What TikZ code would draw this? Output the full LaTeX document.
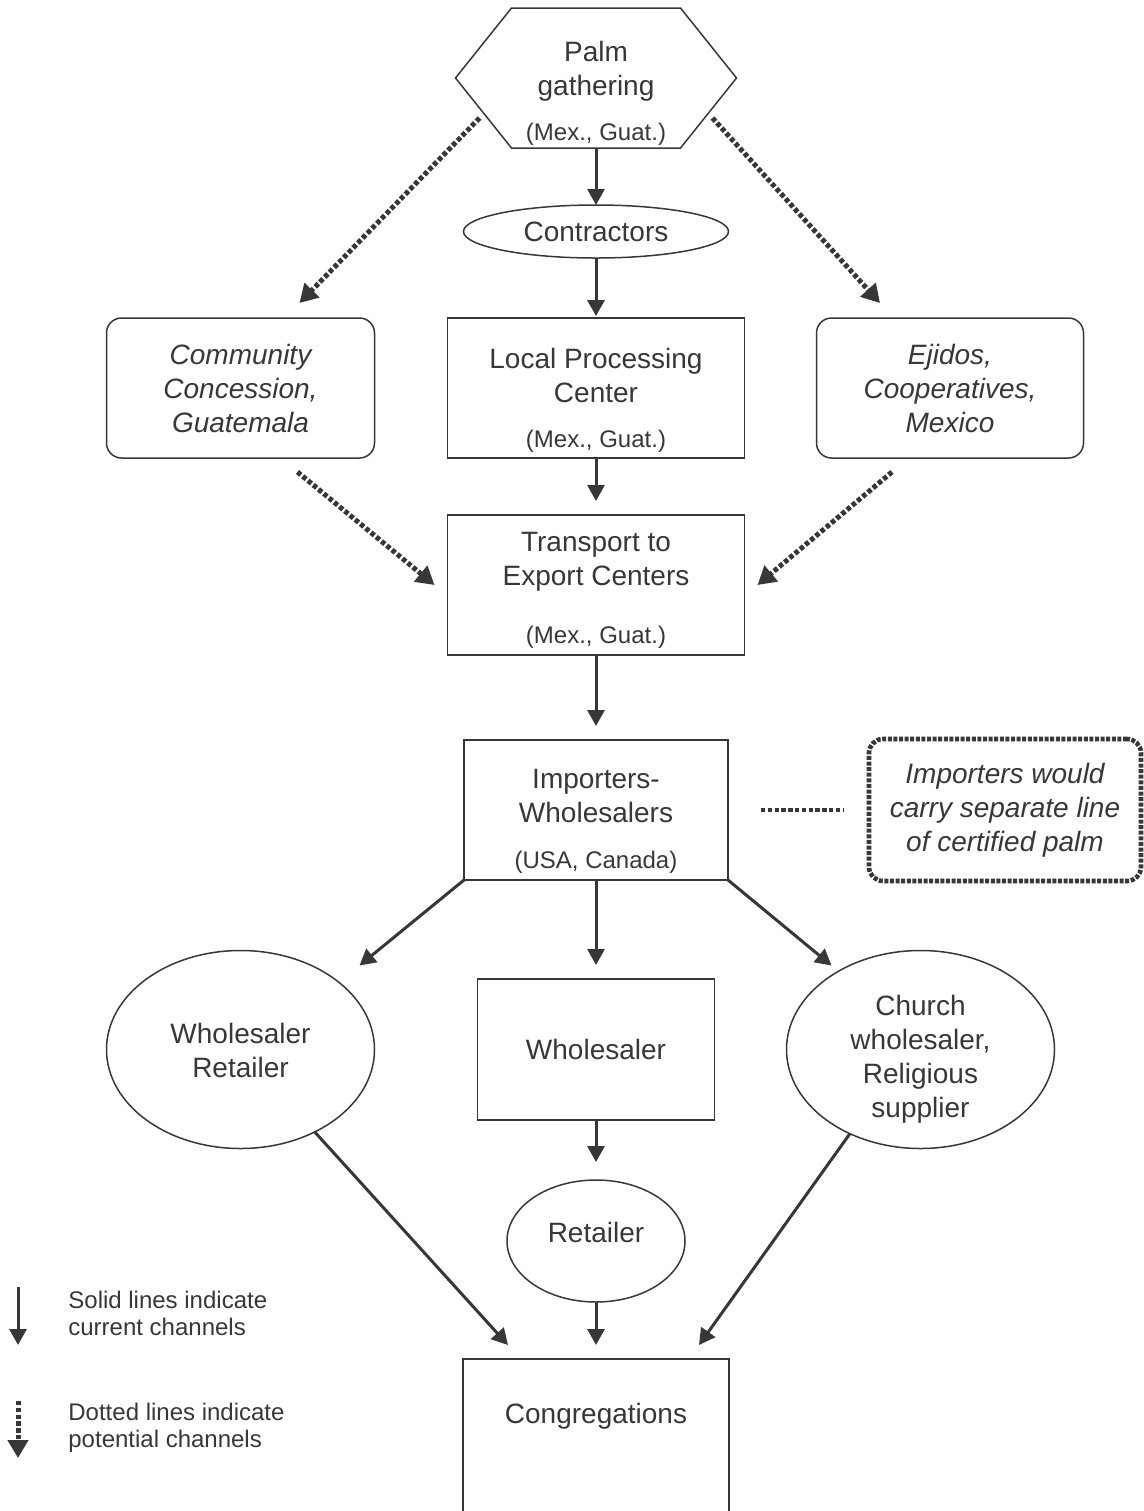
\documentclass[tikz,border=0pt]{standalone}
\usepackage{fontspec}
\setmainfont{Liberation Sans}
\usepackage{xcolor}
\definecolor{ink}{RGB}{55,55,55}
\usetikzlibrary{positioning, calc, shapes.geometric, arrows.meta}

\tikzstyle{Box} = [
draw=ink,
line width=0.75pt,
text=ink,
align=center,
inner sep=0pt,
outer sep=0pt,
font=\fontsize{14}{17}\selectfont]
\tikzstyle{RoundBox} = [Box, rounded corners=7.5pt,
font=\fontsize{14}{17}\selectfont\itshape]
\tikzstyle{Oval} = [Box, ellipse]
\tikzstyle{Sub} = [text=ink, inner sep=2.5pt, anchor=south,
font=\fontsize{12}{14}\selectfont]
\tikzstyle{Legend} = [text=ink, align=left, inner sep=0pt, anchor=west,
font=\fontsize{12}{13.5}\selectfont]
\tikzstyle{Arrow} = [
ink,
line width=1.5pt,
-{Triangle[length=8pt, width=8.5pt]},
shorten >= 7pt]
\tikzstyle{ArrowDotted} = [
ink,
line width=2.5pt,
dash pattern=on 2.2pt off 1.2pt,
-{Triangle[length=9pt, width=10pt]}]

\begin{document}
\begin{tikzpicture}[x=0.5pt, y=-0.5pt]
    \useasboundingbox (0,0) rectangle (1144,1511);
    \clip (0,0) rectangle (1144,1511);

    \node [Box, draw=none, minimum width=140.5pt, minimum height=70pt,
        text height=17pt, text depth=0pt,
        label={[Sub, inner sep=1pt]south:(Mex., Guat.)}] (1) at (596,78) {Palm\\gathering};
    \draw [ink, line width=0.75pt] ([xshift=28pt]1.north west) -- ([xshift=-28pt]1.north east)
        -- (1.east) -- ([xshift=-28pt]1.south east) -- ([xshift=28pt]1.south west) -- (1.west) -- cycle;
    \node [Oval, below=28.5pt of 1, minimum width=132.5pt, minimum height=26.5pt] (2) {Contractors};
    \node [Box, below=30pt of 2, minimum width=148.5pt, minimum height=70pt,
        text height=14pt, text depth=0pt,
        label={[Sub]south:(Mex., Guat.)}] (3) {Local Processing\\Center};
    \node [RoundBox, left=36.5pt of 3, minimum width=134pt, minimum height=70pt] (4) {Community\\Concession,\\Guatemala};
    \node [RoundBox, right=36pt of 3, minimum width=133.5pt, minimum height=70pt] (5) {Ejidos,\\Cooperatives,\\Mexico};
    \node [Box, below=28.5pt of 3, minimum width=148.5pt, minimum height=70pt,
        text height=0pt, text depth=0pt,
        label={[Sub, inner sep=3pt]south:(Mex., Guat.)}] (6) {Transport to\\Export Centers};
    \node [Box, below=42.5pt of 6, minimum width=132pt, minimum height=70pt,
        text height=12pt, text depth=0pt,
        label={[Sub, inner sep=3.3pt]south:(USA, Canada)}] (7) {Importers-\\Wholesalers};
    \node [RoundBox, right=70.5pt of 7, minimum width=136pt, minimum height=71pt,
        line width=2.3pt, dash pattern=on 2pt off 0.8pt, rounded corners=7pt] (8) {Importers would\\carry separate line\\of certified palm};
    \node [Box, below=49.5pt of 7, minimum width=118.5pt, minimum height=70.5pt] (10) {Wholesaler};
    \node [Oval, left=51.5pt of 10, minimum width=134pt, minimum height=99pt,
        text height=28pt, text depth=0pt] (9) {Wholesaler\\Retailer};
    \node [Oval, right=36pt of 10, minimum width=134pt, minimum height=99pt,
        text height=68pt, text depth=0pt] (11) {Church\\wholesaler,\\Religious\\supplier};
    \node [Oval, below=30pt of 10, minimum width=89pt, minimum height=61pt,
        text height=1pt, text depth=0pt] (12) {Retailer};
    \node [Box, below=28.5pt of 12, minimum width=133pt, minimum height=100.5pt,
        text height=0pt, text depth=36.5pt] (13) {Congregations};

    % current channels
    \draw[Arrow, shorten >=0pt] (1) -- (2);
    \draw[Arrow, shorten >=1pt] (2) -- (3);
    \draw[Arrow] (3) -- (6);
    \draw[Arrow] (6) -- (7);
    \draw[Arrow] (7) -- (10);
    \draw[Arrow, shorten >=0pt] (7.south west) -- ([shift={(119,15)}]9.north);
    \draw[Arrow, shorten >=0pt] (7.south east) -- ([shift={(-89,15)}]11.north);
    \draw[Arrow, shorten >=9pt] (10) -- (12);
    \draw[Arrow] (12) -- (13);
    \draw[Arrow, shorten >=0pt] (9.-48) -- ([shift={(45,-14)}]13.north west);
    \draw[Arrow, shorten >=0pt] (11.230) -- ([shift={(-30,-14)}]13.north east);

    % potential channels
    \draw[ArrowDotted] ([shift={(24,-30)}]1.south west) -- ([shift={(59,-15)}]4.north);
    \draw[ArrowDotted] ([shift={(-24,-30)}]1.south east) -- ([shift={(-70,-15)}]5.north);
    \draw[ArrowDotted] ([shift={(57,14)}]4.south) -- ([shift={(-13,0)}]6.west);
    \draw[ArrowDotted] ([shift={(-58,14)}]5.south) -- ([shift={(13,0)}]6.east);
    \draw[ArrowDotted, -, line width=2pt, shorten <=16.5pt, shorten >=12.5pt] (7) -- (8);

    % legend
    \node [Legend] (14) at (68,1313) {Solid lines indicate\\current channels};
    \node [Legend] (15) at (68,1428) {Dotted lines indicate\\potential channels};
    \coordinate (s1) at (18,1287);
    \coordinate (s2) at (18,1345);
    \coordinate (d1) at (18,1401);
    \coordinate (d2) at (18,1458);
    \draw[Arrow, shorten >=0pt] (s1) -- (s2);
    \draw[ArrowDotted] (d1) -- (d2);
\end{tikzpicture}
\end{document}
